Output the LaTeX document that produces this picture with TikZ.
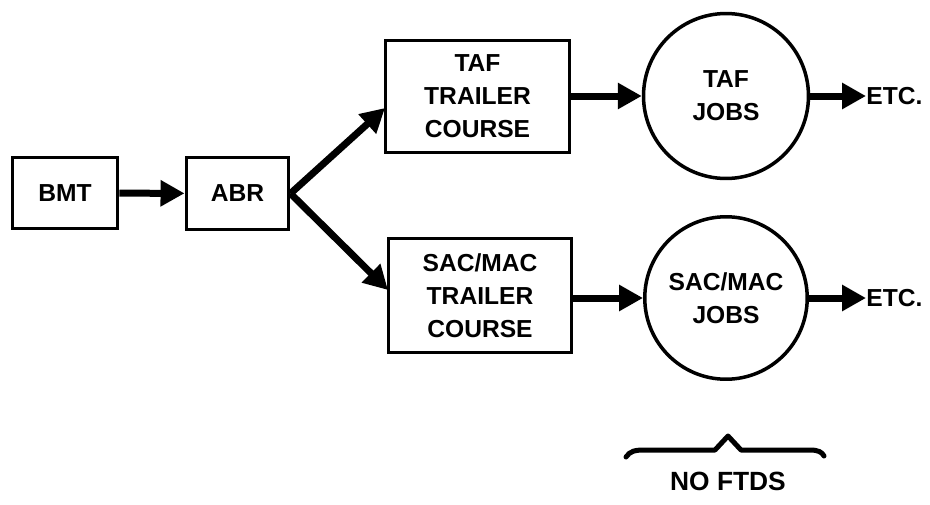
\documentclass[tikz,border=0pt]{standalone}
\usepackage{fontspec}
\setmainfont{Liberation Sans}
\usetikzlibrary{arrows.meta}
\begin{document}
\begin{tikzpicture}[x=0.02cm,y=-0.02cm,
  every node/.style={font=\bfseries\fontsize{14}{18.8}\selectfont, align=center, inner sep=0pt},
  stagebox/.style={draw, line width=0.06cm},
  jobcircle/.style={draw, circle, line width=0.07cm, minimum size=3.3cm},
  flow/.style={line width=0.14cm, -{Triangle[length=0.48cm,width=0.5cm]}},
  bracepath/.style={line width=0.1cm, line join=round, line cap=round}]
  \useasboundingbox (0,0) rectangle (930,504);

  % stages of training
  \node[stagebox, minimum width=2.12cm, minimum height=1.44cm] (bmt) at (65,193) {BMT};
  \node[stagebox, minimum width=2.06cm, minimum height=1.46cm] (abr) at (237.5,193.5) {ABR};
  \node[stagebox, minimum width=3.7cm, minimum height=2.26cm] (taf) at (477.5,96.5) {TAF\\TRAILER\\COURSE};
  \node[stagebox, minimum width=3.68cm, minimum height=2.3cm] (sac) at (480,295.5) {SAC/MAC\\TRAILER\\COURSE};

  % job assignments
  \node[jobcircle] (tafjobs) at (726,96) {TAF\\JOBS};
  \node[jobcircle, minimum size=3.25cm] (sacjobs) at (726,298) {SAC/MAC\\JOBS};

  \node[anchor=west] (etc1) at (866,96) {ETC.};
  \node[anchor=west] (etc2) at (866,298) {ETC.};

  % entry points on the trailer course boxes
  \coordinate (tafin) at (385,108);
  \coordinate (sacin) at (388,290);

  % flow
  \draw[flow] (bmt) -- (abr);
  \draw[flow] (abr.east) -- (tafin);
  \draw[flow] (abr.east) -- (sacin);
  \draw[flow] (taf.east |- tafjobs.west) -- (tafjobs.west);
  \draw[flow] (sac.east |- sacjobs.west) -- (sacjobs.west);
  \draw[flow] (tafjobs.east) -- (etc1.west);
  \draw[flow] (sacjobs.east) -- (etc2.west);

  % brace under the job circles
  \draw[bracepath] (626,457) .. controls (630,451) and (635,450) .. (645,450)
    -- (715,450) -- (728,436) -- (741,450) -- (810,450)
    .. controls (818,450) and (822,452) .. (824,456);
  \node[font=\bfseries\fontsize{15}{18}\selectfont] (noftds) at (728,481) {NO FTDS};
\end{tikzpicture}
\end{document}
